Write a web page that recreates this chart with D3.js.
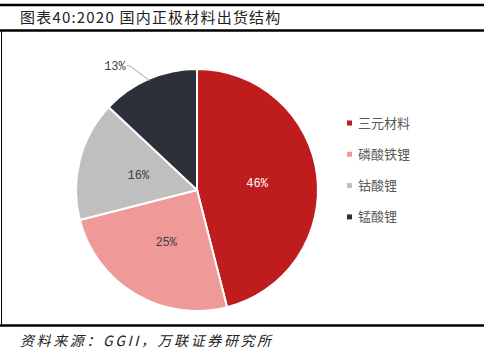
<!DOCTYPE html>
<html>
<head>
<meta charset="utf-8">
<script src="https://cdn.jsdelivr.net/npm/d3@7/dist/d3.min.js"></script>
<style>
	body { margin: 0; background: #fff; }
	svg { display: block; }
</style>
</head>
<body>
<div id="chart"></div>
<script>
// data
const categories = ["三元材料", "磷酸铁锂", "钴酸锂", "锰酸锂"]
const shares = [46, 25, 16, 13]
const colors = ["#BE1C1D", "#EF9A98", "#BFBFBF", "#2B303B"]
const labelColors = ["#ffffff", "#404040", "#404040", "#404040"]

const title = "图表40:2020 国内正极材料出货结构"
const source = "资料来源：GGII，万联证券研究所"

const width = 486
const height = 358

const svg = d3
	.select("#chart")
	.append("svg")
	.attr("width", width)
	.attr("height", height)

// frame lines
svg.append("line")
	.attr("x1", 0).attr("x2", 484)
	.attr("y1", 5).attr("y2", 5)
	.attr("stroke", "#000").attr("stroke-width", 2.5)
svg.append("line")
	.attr("x1", 0).attr("x2", 484)
	.attr("y1", 30.5).attr("y2", 30.5)
	.attr("stroke", "#000").attr("stroke-width", 2.5)
svg.append("line")
	.attr("x1", 1.5).attr("x2", 1.5)
	.attr("y1", 30).attr("y2", 326)
	.attr("stroke", "#000").attr("stroke-width", 1)
svg.append("line")
	.attr("x1", 0).attr("x2", 484)
	.attr("y1", 325.5).attr("y2", 325.5)
	.attr("stroke", "#000").attr("stroke-width", 2.5)

// title
svg.append("text")
	.attr("x", 20)
	.attr("y", 23)
	.attr("font-family", "'Noto Sans CJK SC', sans-serif")
	.attr("font-size", 15)
	.attr("letter-spacing", 1.2)
	.attr("fill", "#222")
	.text(title)

// source
svg.append("text")
	.attr("x", 20)
	.attr("y", 346)
	.attr("font-family", "'Noto Sans CJK SC', sans-serif")
	.attr("font-size", 14)
	.attr("font-style", "italic")
	.attr("letter-spacing", 2.6)
	.attr("fill", "#222")
	.text(source)

// pie
const cx = 197
const cy = 190
const r = 121

const pie = d3.pie().sort(null).value((d) => d)
const arcs = pie(shares)
const arc = d3.arc().innerRadius(0).outerRadius(r)
const labelArc = d3.arc().innerRadius(r * 0.5).outerRadius(r * 0.5)

const g = svg.append("g").attr("transform", `translate(${cx},${cy})`)

g.selectAll(".slice")
	.data(arcs)
	.enter()
	.append("path")
	.attr("class", "slice")
	.attr("d", arc)
	.attr("fill", (d, i) => colors[i])
	.attr("stroke", "#fff")
	.attr("stroke-width", 2)

const labelFont = "'Liberation Mono', monospace"

g.selectAll(".lbl")
	.data(arcs.slice(0, 3))
	.enter()
	.append("text")
	.attr("class", "lbl")
	.attr("transform", (d) => `translate(${labelArc.centroid(d)})`)
	.attr("text-anchor", "middle")
	.attr("dy", "0.35em")
	.attr("font-family", labelFont)
	.attr("font-size", 12)
	.attr("fill", (d, i) => labelColors[i])
	.text((d) => d.data + "%")

// last slice: outside label with leader line
const last = arcs[3]
const mid = (last.startAngle + last.endAngle) / 2
const edge = [Math.sin(mid) * (r - 2), -Math.cos(mid) * (r - 2)]
const elbow = [edge[0] - 20, edge[1] - 15]
g.append("polyline")
	.attr("points", [edge, elbow, [elbow[0] - 3, elbow[1]]].map((p) => p.join(",")).join(" "))
	.attr("fill", "none")
	.attr("stroke", "#A6A6A6")
	.attr("stroke-width", 1)
g.append("text")
	.attr("x", elbow[0] - 4)
	.attr("y", elbow[1])
	.attr("dy", "0.35em")
	.attr("text-anchor", "end")
	.attr("font-family", labelFont)
	.attr("font-size", 12)
	.attr("fill", labelColors[3])
	.text(last.data + "%")

// legend
const legend = svg.append("g").attr("transform", "translate(347,123)")
const items = legend
	.selectAll(".item")
	.data(categories)
	.enter()
	.append("g")
	.attr("class", "item")
	.attr("transform", (d, i) => `translate(0,${i * 31.3})`)

items.append("rect")
	.attr("x", 0)
	.attr("y", -2.5)
	.attr("width", 5)
	.attr("height", 5)
	.attr("fill", (d, i) => colors[i])

items.append("text")
	.attr("x", 11)
	.attr("dy", "0.35em")
	.attr("font-family", "'Noto Sans CJK SC', sans-serif")
	.attr("font-size", 13)
	.attr("fill", "#595959")
	.text((d) => d)
</script>
</body>
</html>
